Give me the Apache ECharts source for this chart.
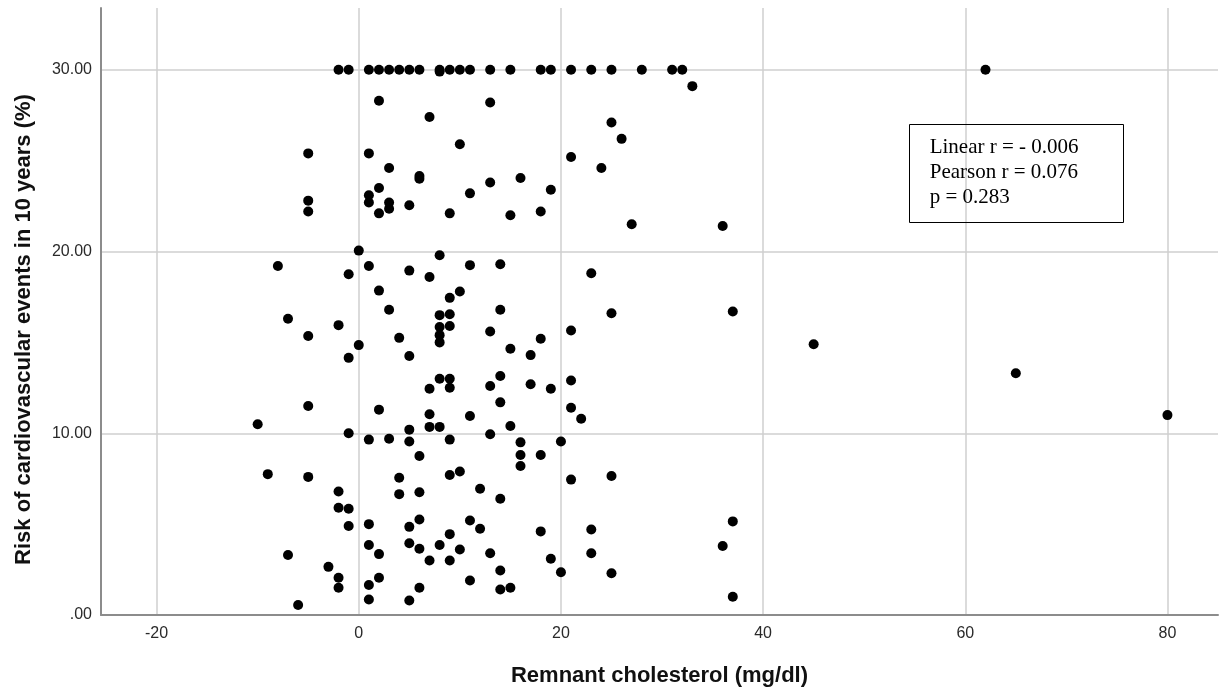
<!DOCTYPE html>
<html>
<head>
<meta charset="utf-8">
<title>Remnant cholesterol vs 10-year cardiovascular risk</title>
<script src="https://cdn.jsdelivr.net/npm/echarts@6/dist/echarts.min.js"></script>
<style>
  html, body { margin: 0; padding: 0; background: #ffffff; }
  #chart { width: 1220px; height: 694px; }
</style>
</head>
<body>
<div id="chart"></div>
<script>
// Remnant cholesterol (mg/dl) per patient
const remnant = [
  -2, -1, 1, 2, 3, 4, 5, 6, 8, 8,
  9, 10, 11, 13, 15, 18, 19, 21, 23, 25,
  28, 31, 32, 62, 33, 2, 13, 7, 25, 26,
  10, -5, 1, 21, 3, 24, 6, 6, 16, 13,
  2, 19, 11, 1, -5, 1, 3, 5, 3, -5,
  18, 2, 9, 15, 27, 36, 0, 8, 14, 11,
  -8, 1, 5, 23, -1, 7, 2, 10, 9, 3,
  14, 37, 25, 9, 8, -7, -2, 9, 8, 21,
  13, 8, -5, 4, 18, 8, 45, 0, 15, 17,
  5, -1, 65, 14, 8, 9, 21, 17, 13, 9,
  7, 19, 14, -5, 21, 2, 7, 80, 11, 22,
  -10, 15, 7, 8, 5, -1, 13, 3, 1, 9,
  5, 20, 16, 16, 18, 6, 16, 10, -9, 9,
  25, -5, 4, 21, 12, -2, 6, 4, 14, -2,
  -1, 6, 11, 37, 1, -1, 5, 12, 23, 18,
  9, 5, 1, 8, 36, 6, 10, 13, 23, 2,
  -7, 19, 7, 9, -3, 14, 20, 25, -2, 2,
  11, 1, -2, 6, 15, 14, 37, 1, 5, -6
];

// Risk of cardiovascular events in 10 years (%) for the same patients
const risk = [
  30, 30, 30, 30, 30, 30, 30, 30, 30, 29.9,
  30, 30, 30, 30, 30, 30, 30, 30, 30, 30,
  30, 30, 30, 30, 29.1, 28.3, 28.2, 27.4, 27.1, 26.2,
  25.9, 25.4, 25.4, 25.2, 24.6, 24.6, 24.15, 24.0, 24.05, 23.8,
  23.5, 23.4, 23.2, 23.1, 22.8, 22.7, 22.7, 22.55, 22.35, 22.2,
  22.2, 22.1, 22.1, 22.0, 21.5, 21.4, 20.05, 19.8, 19.3, 19.25,
  19.2, 19.2, 18.95, 18.8, 18.75, 18.6, 17.85, 17.8, 17.45, 16.8,
  16.8, 16.7, 16.6, 16.55, 16.5, 16.3, 15.95, 15.9, 15.85, 15.65,
  15.6, 15.4, 15.35, 15.25, 15.2, 15.0, 14.9, 14.85, 14.65, 14.3,
  14.25, 14.15, 13.3, 13.15, 13.0, 13.0, 12.9, 12.7, 12.6, 12.5,
  12.45, 12.45, 11.7, 11.5, 11.4, 11.3, 11.05, 11.0, 10.95, 10.8,
  10.5, 10.4, 10.35, 10.35, 10.2, 10.0, 9.95, 9.7, 9.65, 9.65,
  9.55, 9.55, 9.5, 8.8, 8.8, 8.75, 8.2, 7.9, 7.75, 7.7,
  7.65, 7.6, 7.55, 7.45, 6.95, 6.8, 6.75, 6.65, 6.4, 5.9,
  5.85, 5.25, 5.2, 5.15, 5.0, 4.9, 4.85, 4.75, 4.7, 4.6,
  4.45, 3.95, 3.85, 3.85, 3.8, 3.65, 3.6, 3.4, 3.4, 3.35,
  3.3, 3.1, 3.0, 3.0, 2.65, 2.45, 2.35, 2.3, 2.05, 2.05,
  1.9, 1.65, 1.5, 1.5, 1.5, 1.4, 1.0, 0.85, 0.8, 0.55
];

// Axis ticks and their labels
const xTicks = [-20, 0, 20, 40, 60, 80];
const yTicks = [0, 10, 20, 30];
const yTickLabels = ['.00', '10.00', '20.00', '30.00'];

// Axis titles and fit statistics
const xTitle = 'Remnant cholesterol (mg/dl)';
const yTitle = 'Risk of cardiovascular events in 10 years (%)';
const statLines = ['Linear r = - 0.006', 'Pearson r = 0.076', 'p = 0.283'];

const points = remnant.map((x, i) => [x, risk[i]]);

const sans = "'Liberation Sans', Arial, sans-serif";
const serif = "'Liberation Serif', 'Times New Roman', serif";

const chart = echarts.init(document.getElementById('chart'), null, { renderer: 'canvas' });

chart.setOption({
  backgroundColor: '#ffffff',
  animation: false,
  grid: { left: 101, right: 2, top: 8, bottom: 79, containLabel: false },
  xAxis: {
    type: 'value',
    min: -25.5,
    max: 85,
    name: xTitle,
    nameLocation: 'middle',
    nameGap: 50,
    nameTextStyle: { fontFamily: sans, fontSize: 22, fontWeight: 'bold', color: '#111' },
    axisLine: { show: true, onZero: false, lineStyle: { color: '#8c8c8c', width: 2 } },
    axisTick: { show: false, customValues: xTicks },
    axisLabel: {
      customValues: xTicks,
      margin: 11,
      fontFamily: sans,
      fontSize: 16,
      color: '#2a2a2a'
    },
    splitLine: { show: true, lineStyle: { color: '#cfcfcf', width: 1.5 } }
  },
  yAxis: {
    type: 'value',
    min: 0,
    max: 33.4,
    name: yTitle,
    nameLocation: 'middle',
    nameGap: 66,
    nameTextStyle: {
      fontFamily: sans, fontSize: 22, fontWeight: 'bold', color: '#111',
      // title sits a little below the plot's vertical centre
      padding: [0, 36, 0, 0]
    },
    axisLine: { show: true, onZero: false, lineStyle: { color: '#8c8c8c', width: 2 } },
    axisTick: { show: false, customValues: yTicks },
    axisLabel: {
      customValues: yTicks,
      margin: 9,
      fontFamily: sans,
      fontSize: 16,
      color: '#2a2a2a',
      formatter: (v) => {
        const i = yTicks.indexOf(v);
        return i >= 0 ? yTickLabels[i] : '';
      }
    },
    splitLine: { show: true, lineStyle: { color: '#cfcfcf', width: 1.5 } }
  },
  series: [{
    type: 'scatter',
    data: points,
    symbol: 'circle',
    symbolSize: 10,
    itemStyle: { color: '#000000', opacity: 1 },
    emphasis: { disabled: true }
  }],
  graphic: [
    {
      type: 'rect',
      z: 100,
      shape: { x: 909.5, y: 124.5, width: 214, height: 98 },
      style: { fill: 'none', stroke: '#000000', lineWidth: 1 }
    },
    {
      type: 'text',
      z: 101,
      x: 929.7,
      y: 172.2,
      style: {
        text: statLines.join('\n'),
        font: '21px ' + serif,
        fill: '#000000',
        lineHeight: 25,
        align: 'left',
        verticalAlign: 'middle'
      }
    }
  ]
});
</script>
</body>
</html>
